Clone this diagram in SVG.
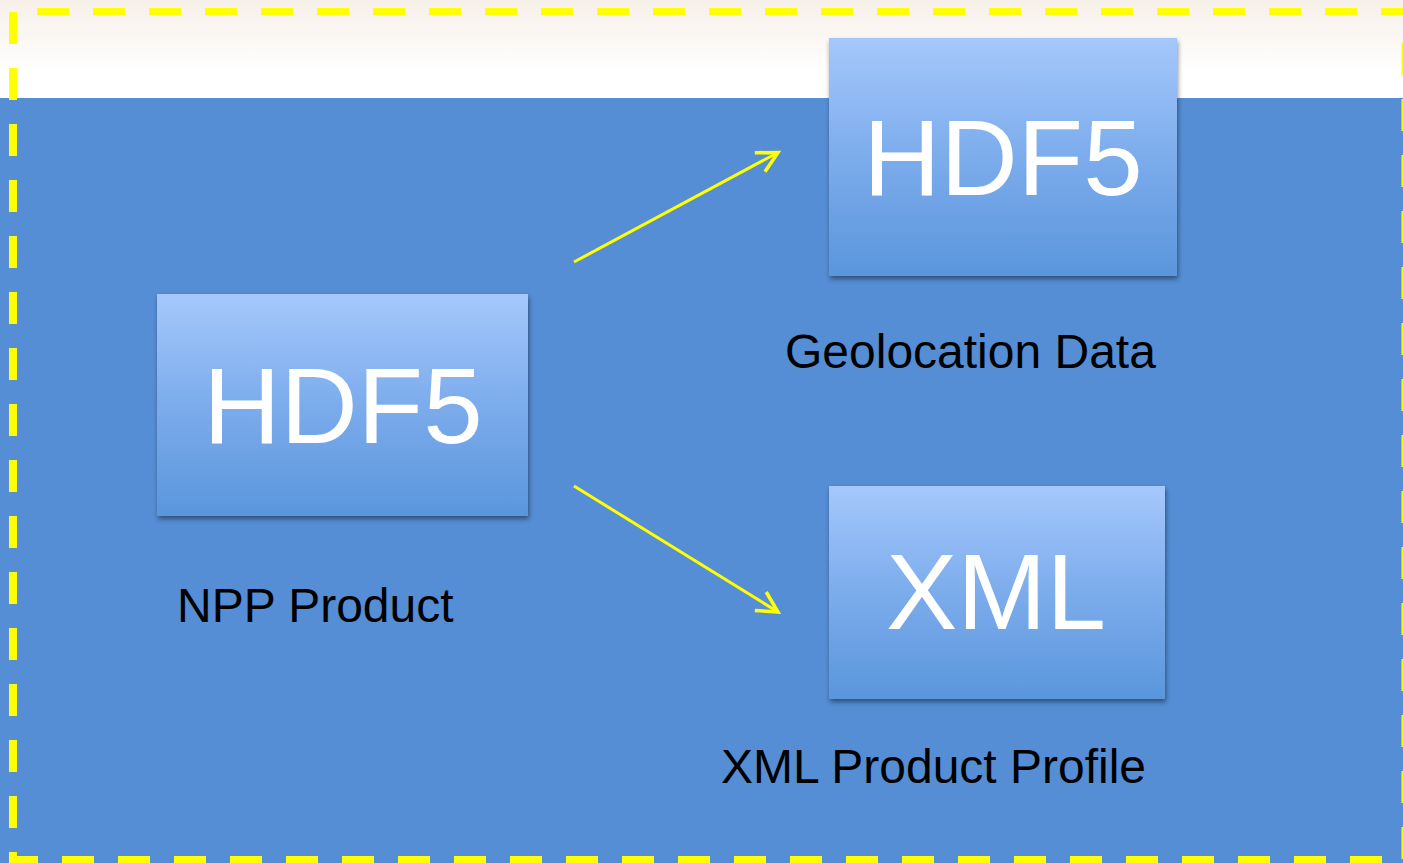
<svg xmlns="http://www.w3.org/2000/svg" width="1403" height="863" viewBox="0 0 1403 863">
  <style>
    .box { fill: url(#boxGrad); filter: url(#shadow); }
    .big { font-family: "Liberation Sans", Arial, sans-serif; font-size: 107px; fill: #ffffff; text-anchor: middle; }
    .lbl { font-family: "Liberation Sans", Arial, sans-serif; font-size: 48px; fill: #000000; }
    .border { stroke: #ffff00; fill: none; stroke-dasharray: 32 24; }
    .conn { stroke: #ffff00; stroke-width: 3; fill: none; }
  </style>
  <defs>
    <linearGradient id="topGrad" x1="0" y1="0" x2="0" y2="1">
      <stop offset="0" stop-color="#f6f0e8"/>
      <stop offset="0.75" stop-color="#ffffff"/>
      <stop offset="1" stop-color="#ffffff"/>
    </linearGradient>
    <linearGradient id="boxGrad" x1="0" y1="0" x2="0" y2="1">
      <stop offset="0" stop-color="#a5c8fc"/>
      <stop offset="0.5" stop-color="#7cacec"/>
      <stop offset="1" stop-color="#5a96dc"/>
    </linearGradient>
    <filter id="shadow" x="-10%" y="-10%" width="120%" height="125%">
      <feGaussianBlur in="SourceAlpha" stdDeviation="2.5"/>
      <feOffset dx="1" dy="3" result="b"/>
      <feComponentTransfer><feFuncA type="linear" slope="0.45"/></feComponentTransfer>
      <feMerge><feMergeNode/><feMergeNode in="SourceGraphic"/></feMerge>
    </filter>
    <marker id="openArrow" markerUnits="userSpaceOnUse" markerWidth="40" markerHeight="40" viewBox="-25 -20 30 40" refX="0" refY="0" orient="auto">
      <path d="M -19,-10 L 0,0 L -19,10" stroke="#ffff00" stroke-width="3.5" fill="none" stroke-linecap="square"/>
    </marker>
  </defs>

  <g id="background">
    <rect x="0" y="0" width="1403" height="98" fill="url(#topGrad)"/>
    <rect x="0" y="98" width="1403" height="765" fill="#558ed5"/>
  </g>

  <g id="frame">
    <line class="border" x1="37" y1="11.5" x2="1403" y2="11.5" stroke-width="7"/>
    <line class="border" x1="13" y1="12" x2="13" y2="852" stroke-width="8"/>
    <line class="border" x1="13" y1="852" x2="13" y2="863" stroke-width="8" stroke-dasharray="none"/>
    <line class="border" x1="13" y1="859.5" x2="1403" y2="859.5" stroke-width="7" stroke-dashoffset="7"/>
    <line class="border" x1="1405" y1="43" x2="1405" y2="863" stroke-width="7"/>
  </g>

  <g id="connectors">
    <line class="conn" x1="574" y1="262" x2="778" y2="152.5" marker-end="url(#openArrow)"/>
    <line class="conn" x1="574" y1="486" x2="778" y2="612" marker-end="url(#openArrow)"/>
  </g>

  <g id="node-npp">
    <rect class="box" x="157" y="294" width="371" height="222"/>
    <text class="big" x="343" y="443">HDF5</text>
    <text class="lbl" x="177" y="622">NPP Product</text>
  </g>

  <g id="node-geo">
    <rect class="box" x="829" y="38" width="348" height="238"/>
    <text class="big" x="1003" y="195">HDF5</text>
    <text class="lbl" x="785" y="368">Geolocation Data</text>
  </g>

  <g id="node-xml">
    <rect class="box" x="829" y="486" width="336" height="213"/>
    <text class="big" x="996" y="629">XML</text>
    <text class="lbl" x="721" y="783">XML Product Profile</text>
  </g>
</svg>
